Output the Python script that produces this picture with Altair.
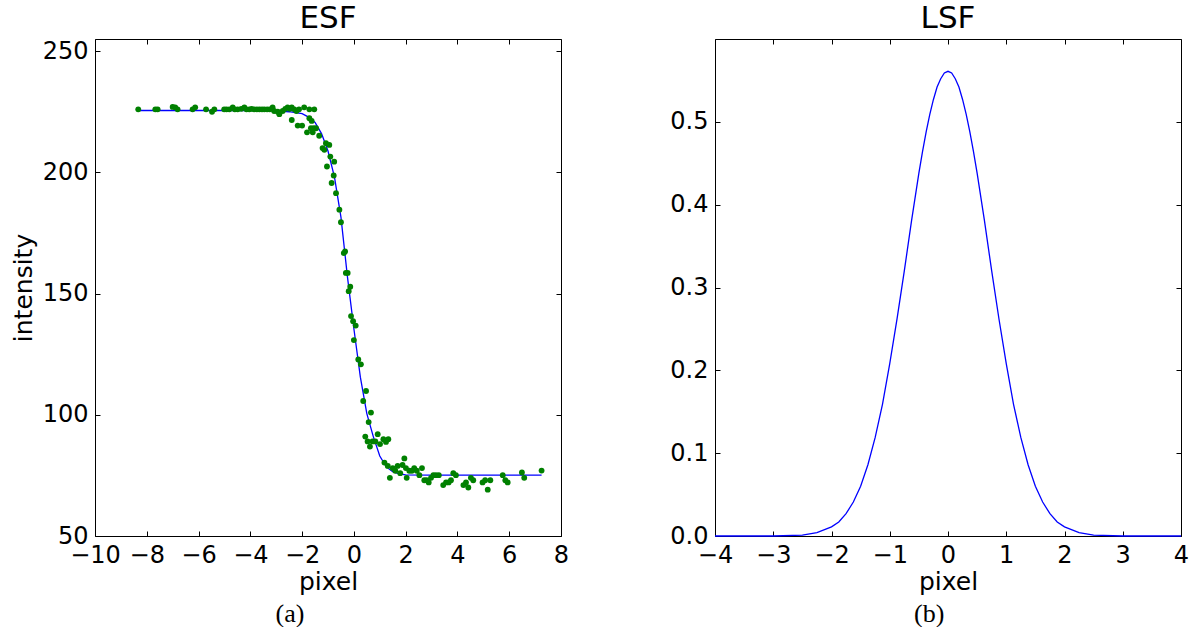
import altair as alt
import pandas as pd

# ---------------- data ----------------
# ESF measured samples (pixel, intensity)
esf_x = [-8.33, -7.67, -7.58, -7.00, -6.90, -6.81, -6.23, -6.13, -5.71, -5.48,
         -5.39, -5.01, -4.92, -4.81, -4.68, -4.60, -4.49, -4.35, -4.23, -4.15,
         -4.04, -3.95, -3.85, -3.75, -3.65, -3.55, -3.46, -3.35, -3.25, -3.14,
         -3.08, -2.94, -2.88, -2.75, -2.65, -2.56, -2.48, -2.40, -2.30, -2.22,
         -2.12, -1.92, -1.72, -1.53,
         -2.40, -2.17, -2.00, -1.81, -1.66, -1.55, -1.59, -1.72, -1.63, -1.46,
         -1.34, -1.21, -1.14, -1.08, -0.95, -0.91, -0.76, -1.04, -0.78, -0.86,
         -0.69, -0.56, -0.50,
         -0.39, -0.34, -0.31, -0.24, -0.14, -0.20, -0.11, -0.03, 0.07, 0.00,
         0.17, 0.27, 0.47, 0.36, 0.66, 0.57,
         0.44, 0.53, 0.62, 0.72, 0.83, 0.92, 1.01, 1.14, 1.24, 1.33,
         1.18, 1.31, 1.39, 1.50, 1.60, 1.69, 1.79, 1.88, 1.95, 2.01,
         2.04, 2.14, 2.24, 2.33, 2.43, 2.53, 2.63, 2.72, 2.81, 2.89,
         2.98, 3.07, 3.17, 3.28, 3.45, 3.56, 3.66, 3.75, 3.84, 3.94,
         4.23, 4.33, 4.42, 4.52, 4.61, 4.97, 5.07, 5.27, 5.17, 5.75,
         5.85, 5.94, 6.49, 6.58, 7.25]
esf_y = [226.0, 226.0, 226.0, 227.0, 226.8, 226.0, 226.0, 226.8, 226.0, 225.0,
         226.0, 226.0, 226.0, 226.0, 226.8, 226.0, 226.0, 226.2, 226.8, 226.0,
         226.0, 226.2, 226.0, 226.0, 226.0, 226.0, 226.0, 226.0, 226.0, 226.8,
         225.3, 225.0, 224.0, 225.3, 226.2, 226.8, 226.2, 226.8, 226.0, 225.3,
         226.0, 226.8, 226.0, 226.0,
         221.6, 219.3, 219.3, 216.5, 218.2, 218.2, 216.5, 222.3, 221.2, 218.2,
         215.1, 210.0, 209.3, 212.0, 211.3, 206.5, 204.4, 202.4, 198.7, 195.6,
         191.4, 184.6, 179.4,
         166.7, 167.4, 158.5, 158.5, 152.8, 151.0, 140.7, 138.6, 136.8, 130.8,
         122.8, 120.8, 109.8, 105.7, 100.9, 97.0,
         91.0, 89.0, 86.9, 89.0, 89.0, 92.0, 87.9, 89.9, 88.8, 89.9,
         80.3, 78.9, 74.0, 78.0, 76.9, 78.9, 75.9, 79.3, 82.0, 78.0,
         74.0, 76.9, 76.9, 78.0, 76.9, 75.1, 78.0, 73.0, 73.0, 72.1,
         74.0, 75.1, 75.1, 75.1, 71.0, 72.1, 72.1, 73.0, 75.9, 75.1,
         71.0, 72.1, 70.0, 74.0, 73.0, 72.1, 73.0, 73.0, 69.1, 75.1,
         73.0, 72.1, 76.2, 74.0, 77.0]

# ESF fitted curve (pixel, intensity)
fit_x = [-8.33, -4.0, -3.0, -2.5, -2.0, -1.75, -1.5, -1.25, -1.0, -0.75,
         -0.5, -0.25, 0.0, 0.25, 0.5, 0.75, 1.0, 1.25, 1.5, 1.75,
         2.0, 3.0, 7.25]
fit_y = [225.5, 225.5, 225.4, 225.0, 224.2, 222.8, 220.6, 216.0, 208.8, 198.0,
         181.5, 157.0, 135.5, 115.5, 100.5, 91.0, 83.0, 78.5, 76.5, 75.6,
         75.2, 75.1, 75.1]

# LSF curve (pixel, value)
lsf_x = [-4.0, -3.0, -2.5, -2.25, -2.0, -1.875, -1.75, -1.625, -1.5, -1.375,
         -1.25, -1.125, -1.0, -0.875, -0.75, -0.625, -0.5, -0.4375, -0.375,
         -0.3125, -0.25, -0.1875, -0.125, -0.0625,
         0.0, 0.0625, 0.125, 0.1875, 0.25, 0.3125, 0.375, 0.4375, 0.5,
         0.625, 0.75, 0.875, 1.0, 1.125,
         1.25, 1.375, 1.5, 1.625, 1.75, 1.875, 2.0, 2.25, 2.5, 3.0, 4.0]
lsf_y = [0.0, 0.0, 0.001, 0.004, 0.011, 0.017, 0.027, 0.041, 0.060, 0.086,
         0.119, 0.159, 0.208, 0.262, 0.320, 0.381, 0.438, 0.464, 0.488,
         0.509, 0.527, 0.542, 0.552, 0.559,
         0.561, 0.559, 0.552, 0.542, 0.527, 0.509, 0.488, 0.464, 0.438,
         0.381, 0.320, 0.262, 0.208, 0.159,
         0.119, 0.086, 0.060, 0.041, 0.027, 0.017, 0.011, 0.004, 0.001, 0.0, 0.0]

esf_xticks = [-10, -8, -6, -4, -2, 0, 2, 4, 6, 8]
esf_yticks = [50, 100, 150, 200, 250]
lsf_xticks = [-4, -3, -2, -1, 0, 1, 2, 3, 4]
lsf_yticks = [0.0, 0.1, 0.2, 0.3, 0.4, 0.5]

esf_pts = pd.DataFrame({"x": esf_x, "y": esf_y})
esf_fit = pd.DataFrame({"x": fit_x, "y": fit_y})
lsf_df = pd.DataFrame({"x": lsf_x, "y": lsf_y})

FONT = "DejaVu Sans"
W, H = 466, 497


def ax(values, orient, labels=True, title=None, fmt=None, title_pad=4):
    kw = dict(values=values, orient=orient, offset=-5, tickSize=5,
              tickColor="black", tickWidth=1, domain=False, grid=False,
              labels=labels, labelFont=FONT, labelFontSize=24,
              labelColor="black", labelPadding=7, labelFlush=False,
              labelOverlap=False, title=title, titleFont=FONT,
              titleFontSize=25, titleFontWeight="normal", titleColor="black",
              titlePadding=title_pad)
    if fmt:
        kw["format"] = fmt
    return alt.Axis(**kw)


FRAME = alt.ViewBackground(stroke="black", strokeWidth=1, fill="white")

# ---------------- ESF panel ----------------
xs_a = alt.Scale(domain=[-10, 8], nice=False, zero=False)
ys_a = alt.Scale(domain=[50, 255], nice=False, zero=False)

esf_line = alt.Chart(esf_fit).mark_line(color="#0000ff", strokeWidth=1.3).encode(
    x=alt.X("x:Q", scale=xs_a, axis=ax(esf_xticks, "bottom", title="pixel", title_pad=2)),
    y=alt.Y("y:Q", scale=ys_a, axis=ax(esf_yticks, "left", title="intensity", title_pad=6)),
)
esf_points = alt.Chart(esf_pts).mark_circle(color="#008000", opacity=1, size=34).encode(
    x=alt.X("x:Q", scale=xs_a, axis=ax(esf_xticks, "top", labels=False)),
    y=alt.Y("y:Q", scale=ys_a, axis=ax(esf_yticks, "right", labels=False)),
)
panel_a = alt.layer(esf_line, esf_points).resolve_axis(
    x="independent", y="independent"
).properties(
    width=W, height=H, view=FRAME,
    title=alt.TitleParams("ESF", font=FONT, fontSize=31, fontWeight="normal",
                          color="black", offset=4, anchor="middle"),
)

# ---------------- LSF panel ----------------
xs_b = alt.Scale(domain=[-4, 4], nice=False, zero=False)
ys_b = alt.Scale(domain=[0, 0.6], nice=False, zero=False)

lsf_line = alt.Chart(lsf_df).mark_line(color="#0000ff", strokeWidth=1.3).encode(
    x=alt.X("x:Q", scale=xs_b, axis=ax(lsf_xticks, "bottom", title="pixel", title_pad=2)),
    y=alt.Y("y:Q", scale=ys_b, axis=ax(lsf_yticks, "left", fmt=".1f")),
)
lsf_frame = alt.Chart(lsf_df).mark_line(opacity=0).encode(
    x=alt.X("x:Q", scale=xs_b, axis=ax(lsf_xticks, "top", labels=False)),
    y=alt.Y("y:Q", scale=ys_b, axis=ax(lsf_yticks, "right", labels=False)),
)
panel_b = alt.layer(lsf_line, lsf_frame).resolve_axis(
    x="independent", y="independent"
).properties(
    width=W, height=H, view=FRAME,
    title=alt.TitleParams("LSF", font=FONT, fontSize=31, fontWeight="normal",
                          color="black", offset=4, anchor="middle"),
)


def caption(chart, text):
    return alt.vconcat(chart).properties(
        title=alt.TitleParams(text, orient="bottom", anchor="middle",
                              font="Liberation Serif", fontSize=26,
                              fontWeight="normal", color="black", offset=6)
    )


chart = alt.hconcat(caption(panel_a, "(a)"), caption(panel_b, "(b)"), spacing=99).properties(
    padding={"left": 10, "top": 2, "right": 0, "bottom": 0}
).configure_view(stroke="black", strokeWidth=1).configure(background="white")

chart.save("out.html", embed_options={"renderer": "svg", "actions": False})
